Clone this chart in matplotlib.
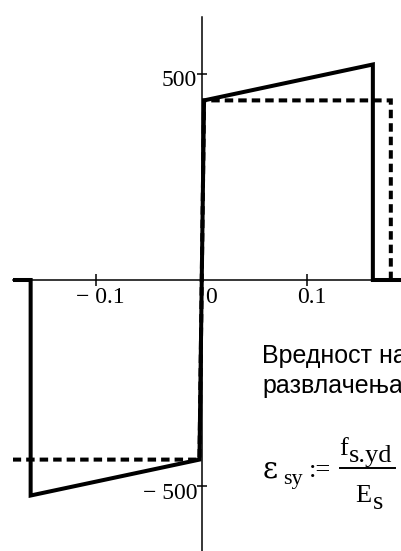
import matplotlib
matplotlib.use("Agg")
import matplotlib.pyplot as plt
from matplotlib.lines import Line2D
from matplotlib.transforms import offset_copy

# ---- data (strain [-], stress [MPa]) ----
strain_char = [-0.179, -0.162, -0.162, -0.00217, 0.00217, 0.162, 0.162, 0.2]
stress_char = [0, 0, -522, -435, 435, 522, 0, 0]
strain_design = [-0.179, -0.00217, 0.00217, 0.179, 0.179]
stress_design = [-435, -435, 435, 435, 0]

x_ticks = [-0.1, 0, 0.1]
x_tick_labels = ["\u2212 0.1", "0", "0.1"]
y_ticks = [-500, 500]
y_tick_labels = ["\u2212 500", "500"]

note_lines = ["Вредност на", "развлачења"]

W, H = 401, 551
fig = plt.figure(figsize=(W / 100, H / 100), dpi=100)

# axes placement in pixels
ax_left_px, ax_right_px = 13, 413
ax_top_px = 17
ylim = (-660, 637)
xlim = (-0.1787, 0.2)
px_per_mpa = (280 - ax_top_px) / ylim[1]
ax_h_px = (ylim[1] - ylim[0]) * px_per_mpa
ax = fig.add_axes([ax_left_px / W, 1 - (ax_top_px + ax_h_px) / H,
                   (ax_right_px - ax_left_px) / W, ax_h_px / H])
ax.set_xlim(*xlim)
ax.set_ylim(*ylim)
ax.patch.set_alpha(0)

for s in ("top", "right"):
    ax.spines[s].set_visible(False)
ax.spines["left"].set_position(("data", 0))
ax.spines["bottom"].set_position(("data", 0))
for s in ("left", "bottom"):
    ax.spines[s].set_linewidth(1.1)
    ax.spines[s].set_color("black")

ax.set_xticks(x_ticks)
ax.set_xticklabels([])
ax.set_yticks(y_ticks)
ax.set_yticklabels([])
ax.tick_params(axis="x", direction="inout", length=8.6, width=1.1, color="black")
ax.tick_params(axis="y", direction="inout", length=7.2, width=1.1, color="black")

ax.plot(strain_char, stress_char, color="black", lw=2.9,
        solid_joinstyle="miter", solid_capstyle="butt", zorder=3)
ax.plot(strain_design, stress_design, color="black", lw=2.9,
        linestyle=(0, (2.1, 1.25)), dash_capstyle="butt",
        dash_joinstyle="miter", zorder=3)

serif = ["Liberation Serif", "DejaVu Serif"]
tick_fs = 17

# x tick labels (Mathcad style, shifted slightly right of tick)
x_shift = {"0": 9.5}
for v, lab in zip(x_ticks, x_tick_labels):
    dx = x_shift.get(lab, 4.0)
    tr = offset_copy(ax.transData, fig=fig, x=dx, y=-23, units="dots")
    ax.text(v, 0, lab, transform=tr, ha="center", va="baseline",
            family=serif, fontsize=tick_fs, clip_on=False)

# y tick labels (right aligned, just below the tick)
for v, lab in zip(y_ticks, y_tick_labels):
    tr = offset_copy(ax.transData, fig=fig, x=-4.5, y=-12.5, units="dots")
    ax.text(0, v, lab, transform=tr, ha="right", va="baseline",
            family=serif, fontsize=tick_fs, clip_on=False)


def ftext(x, y, s, **kw):
    fig.text(x / W, 1 - y / H, s, ha="left", va="baseline", **kw)


# overlaid note text (cut by the right edge, as in the source)
sans = ["Liberation Sans", "DejaVu Sans"]
ftext(262, 363, note_lines[0], family=sans, fontsize=18)
ftext(262, 393, note_lines[1], family=sans, fontsize=18)

# formula eps_sy := f_s.yd / E_s
fs = 19
ftext(263, 477, "ε", family=["DejaVu Serif"], fontsize=21)
ftext(283, 484, "sy", family=serif, fontsize=16)
ftext(309, 477, ":=", family=serif, fontsize=fs)
ftext(339.5, 455, "f", family=serif, fontsize=fs)
ftext(349, 462, "s.yd", family=serif, fontsize=fs)
ftext(355, 502, "E", family=serif, fontsize=fs)
ftext(373, 509, "s", family=serif, fontsize=fs)
fig.add_artist(Line2D([340 / W, 395 / W], [1 - 468 / H, 1 - 468 / H],
                      color="black", lw=1.4, transform=fig.transFigure))

fig.savefig("out.png", dpi=100)
